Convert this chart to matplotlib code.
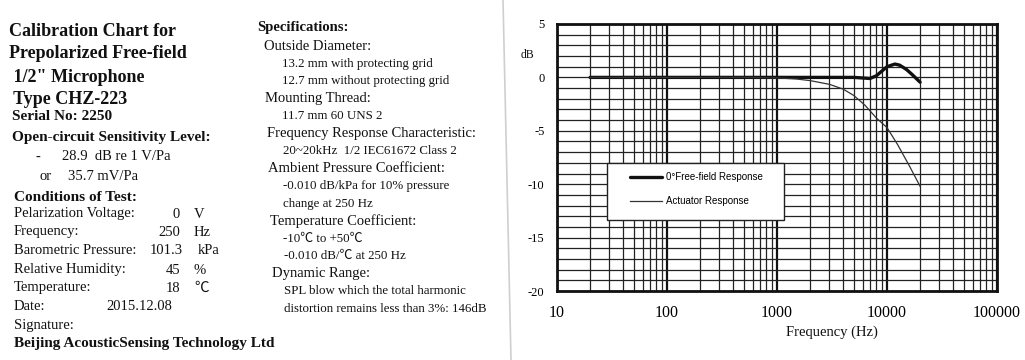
import matplotlib
matplotlib.use("Agg")
import matplotlib.pyplot as plt
from matplotlib.lines import Line2D
from matplotlib.patches import Rectangle
from matplotlib.ticker import FixedLocator, NullFormatter

# ── data ──────────────────────────────────────────────────────────────
FREQ_FF = [20, 100, 1000, 3000, 5000, 7000, 8000, 9000, 10000, 11800,
           13000, 15000, 17000, 20000]
RESP_FF = [0.0, 0.0, 0.0, 0.0, 0.0, -0.1, 0.15, 0.6, 1.0, 1.25,
           1.15, 0.75, 0.25, -0.45]

FREQ_ACT = [20, 100, 500, 1000, 1500, 2000, 3000, 4000, 5000, 6300,
            8000, 10000, 12500, 16000, 20000]
RESP_ACT = [0.0, 0.0, 0.0, -0.05, -0.15, -0.3, -0.65, -1.1, -1.7, -2.6,
            -3.8, -4.7, -6.3, -8.3, -10.2]

SERIES_LABELS = ["0°Free-field Response", "Actuator Response"]
X_TICKS = [10, 100, 1000, 10000, 100000]
Y_TICKS = [5, 0, -5, -10, -15, -20]

TITLE_LINES = ["Calibration Chart for", "Prepolarized Free-field",
               " 1/2\" Microphone", " Type CHZ-223"]
COND_NAMES = ["Pelarization Voltage:", "Frequency:", "Barometric Pressure:",
              "Relative Humidity:", "Temperature:"]
COND_VALUES = ["0", "250", "101.3", "45", "18"]
COND_UNITS = ["V", "Hz", "kPa", "%", "℃"]

SPEC_LINES = [
    ("h", "Outside Diameter:"),
    ("s", "13.2 mm with protecting grid"),
    ("s", "12.7 mm without protecting grid"),
    ("h", "Mounting Thread:"),
    ("s", "11.7 mm 60 UNS 2"),
    ("h", "Frequency Response Characteristic:"),
    ("s", "20~20kHz  1/2 IEC61672 Class 2"),
    ("h", "Ambient Pressure Coefficient:"),
    ("s", "-0.010 dB/kPa for 10% pressure"),
    ("s", "change at 250 Hz"),
    ("h", "Temperature Coefficient:"),
    ("s", "-10℃ to +50℃"),
    ("s", "-0.010 dB/℃ at 250 Hz"),
    ("h", "Dynamic Range:"),
    ("s", "SPL blow which the total harmonic"),
    ("s", "distortion remains less than 3%: 146dB"),
]
# ──────────────────────────────────────────────────────────────────────

W, H = 1025, 360
SERIF = ["Liberation Serif", "Noto Sans CJK SC"]
SANS = ["Liberation Sans", "DejaVu Sans"]

fig = plt.figure(figsize=(W / 100, H / 100), dpi=100)
fig.patch.set_facecolor("white")


def px(x, y):
    return x / W, 1 - y / H


def put(x, y, s, size, bold=False, ha="left"):
    fig.text(*px(x, y), s, fontsize=size, ha=ha, va="center",
             family=SERIF, weight="bold" if bold else "normal", color="#111")


# left column
for i, line in enumerate(TITLE_LINES):
    put(9, [32, 54, 78, 100][i], line, 13, bold=True)
put(12, 117, "Serial No: 2250", 11, bold=True)
put(12, 137, "Open-circuit Sensitivity Level:", 11, bold=True)
put(36, 157, "-", 10.5)
put(62, 157, "28.9  dB re 1 V/Pa", 10.5)
put(39, 177, "or", 10.5)
put(68, 177, "35.7 mV/Pa", 10.5)
put(14, 197, "Conditions of Test:", 11, bold=True)
cond_y = [214, 232, 251, 270, 288]
for name, val, unit, y in zip(COND_NAMES, COND_VALUES, COND_UNITS, cond_y):
    put(14, y, name, 10.5)
    put(183 if "." in val else 180, y, val, 10.5, ha="right")
    put(198 if unit == "kPa" else 194, y, unit, 10.5)
put(14, 307, "Date:", 10.5)
put(106, 307, "2015.12.08", 10.5)
put(14, 326, "Signature:", 10.5)
put(14, 344, "Beijing AcousticSensing Technology Ltd", 11, bold=True)

# middle column
put(257, 27, "Specifications:", 10.5, bold=True)
for i, (kind, line) in enumerate(SPEC_LINES):
    y = 46 + 17.5 * i
    if kind == "h":
        put(262 + 0.035 * y, y, line, 10.5)
    else:
        put(281 + 0.01 * y, y, line, 9.3)

# faint fold of the scanned sheet
fig.add_artist(Line2D([503 / W, 511 / W], [1, 0], transform=fig.transFigure,
                      color="#cfcfcf", lw=1.2))

# response chart
ax = fig.add_axes([557 / W, 1 - 291 / H, 440 / W, 267 / H])
ax.set_xscale("log")
ax.set_xlim(10, 100000)
ax.set_ylim(-20, 5)
ax.set_axisbelow(True)

minor_x = [m * d for d in (10, 100, 1000, 10000) for m in range(2, 10)]
ax.xaxis.set_major_locator(FixedLocator(X_TICKS))
ax.xaxis.set_minor_locator(FixedLocator(minor_x))
ax.xaxis.set_minor_formatter(NullFormatter())
ax.set_xticklabels([str(t) for t in X_TICKS], family=SERIF, fontsize=11.5)
ax.yaxis.set_major_locator(FixedLocator(Y_TICKS))
ax.yaxis.set_minor_locator(FixedLocator(range(-20, 6)))
ax.set_yticklabels([str(t) for t in Y_TICKS], family=SERIF, fontsize=9)
ax.tick_params(which="both", length=0)
ax.tick_params(axis="x", pad=10)
ax.tick_params(axis="y", pad=9)

ax.grid(which="minor", color="#222", lw=0.9)
ax.grid(which="major", axis="x", color="#111", lw=1.6)
ax.grid(which="major", axis="y", color="#222", lw=0.9)
for sp in ax.spines.values():
    sp.set_linewidth(2.0)
    sp.set_color("#111")

ax.plot(FREQ_FF, RESP_FF, color="#111", lw=2.4, zorder=3,
        label=SERIES_LABELS[0], solid_capstyle="round")
ax.plot(FREQ_ACT, RESP_ACT, color="#333", lw=0.9, zorder=3,
        label=SERIES_LABELS[1])

ax.add_patch(Rectangle((0.114, 0.266), 0.402, 0.2135, transform=ax.transAxes,
                       facecolor="white", edgecolor="#222", lw=1.0,
                       zorder=2.5))
ax.legend(loc="upper left", bbox_to_anchor=(0.166, 0.446), frameon=False,
          prop={"family": SANS, "size": 7}, handlelength=3.3,
          handletextpad=0.4, labelspacing=1.45, borderpad=0,
          borderaxespad=0).set_zorder(5)

ax.text(-0.068, 0.884, "dB", transform=ax.transAxes, ha="center",
        va="center", family=SERIF, fontsize=8.5, color="#111")
fig.text(*px(832, 332), "Frequency (Hz)", ha="center", va="center",
         family=SERIF, fontsize=10.5, color="#111")

fig.savefig("out.png", dpi=100, facecolor="white")
